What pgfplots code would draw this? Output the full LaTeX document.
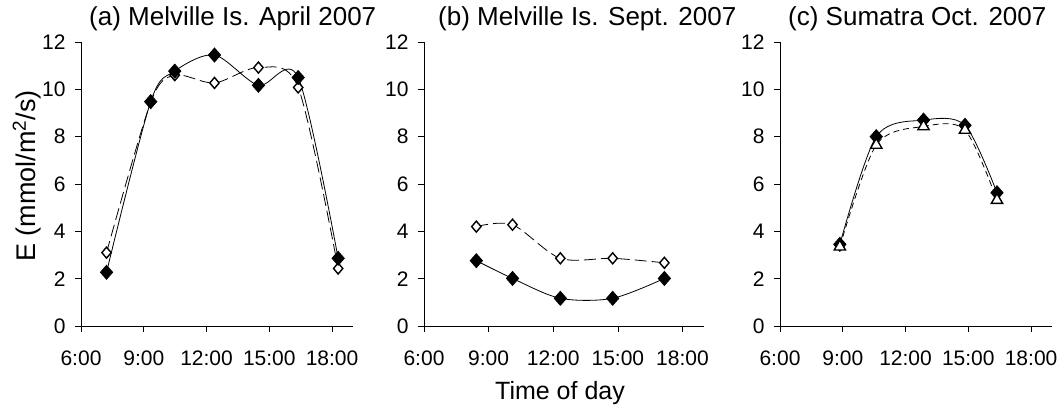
\documentclass[border=0pt]{standalone}
\usepackage{pgfplots}
\pgfplotsset{compat=1.18}
\usepackage{fontspec}
\setmainfont{Liberation Sans}
\pgfplotsset{
  panel/.style={
    scale only axis, width=272pt, height=284pt,
    anchor=south west,
    axis lines=left,
    axis line style={-, line width=0.7pt, black},
    xmin=6, xmax=19, ymin=0, ymax=12,
    xtick={6,9,12,15,18},
    xticklabels={6:00,9:00,12:00,15:00,18:00},
    ytick={0,2,4,6,8,10,12},
    tick align=outside,
    major tick length=6pt,
    tick style={black, line width=0.7pt},
    /pgf/number format/assume math mode=true,
    ticklabel style={font=\fontsize{21}{25}\selectfont},
    yticklabel style={xshift=-6pt},
    xticklabel style={yshift=-15pt},
    title style={at={(0,1)}, anchor=base west, yshift=11pt, inner sep=0pt,
                 font=\fontsize{26}{31}\selectfont},
    clip=false,
  },
  filled/.style={black, line width=0.8pt, smooth, tension=0.5,
    mark=diamond*, mark size=7pt, mark options={solid, fill=black, xscale=1.17}},
  opendia/.style={black, line width=0.8pt, smooth, tension=0.5,
    dash pattern=on 12pt off 5pt,
    mark=diamond*, mark size=5.5pt, mark options={solid, fill=white, line width=1.4pt, xscale=1.13}},
  opentri/.style={black, line width=0.8pt, smooth, tension=0.5,
    dash pattern=on 6pt off 4pt,
    mark=triangle*, mark size=6.5pt, mark options={solid, fill=white, line width=1.4pt}},
}
\begin{document}
\begin{tikzpicture}
\useasboundingbox (0,0) rectangle (1063pt,-405pt);
% (a)
\begin{axis}[panel, at={(81pt,-326pt)}, title style={xshift=8pt}, title={(a) Melville Is. April 2007}]
\addplot[opendia] coordinates {(7.22,3.1) (9.33,9.45) (10.48,10.6) (12.38,10.27) (14.48,10.92) (16.38,10.08) (18.29,2.43)};
\addplot[filled] coordinates {(7.22,2.27) (9.33,9.48) (10.48,10.77) (12.38,11.45) (14.48,10.17) (16.38,10.5) (18.29,2.86)};
\end{axis}
% (b)
\begin{axis}[panel, at={(424pt,-326pt)}, width=280pt, title style={xshift=14pt}, title={(b) Melville Is. Sept. 2007}]
\addplot[opendia] coordinates {(8.43,4.2) (10.11,4.28) (12.33,2.86) (14.76,2.86) (17.16,2.67)};
\addplot[filled] coordinates {(8.43,2.76) (10.11,2.01) (12.33,1.17) (14.76,1.17) (17.16,2.01)};
\end{axis}
% (c)
\begin{axis}[panel, at={(780pt,-326pt)}, title style={xshift=8pt}, title={(c) Sumatra Oct. 2007}]
\addplot[filled] coordinates {(8.86,3.45) (10.6,8.0) (12.86,8.7) (14.84,8.48) (16.37,5.63)};
\addplot[opentri] coordinates {(8.86,3.35) (10.6,7.65) (12.86,8.43) (14.84,8.28) (16.37,5.32)};
\end{axis}
\node[rotate=90, anchor=base, inner sep=0pt, font=\fontsize{27}{32}\selectfont] at (35pt,-176pt) {E (mmol/m\textsuperscript{2}/s)};
\node[anchor=base, inner sep=0pt, font=\fontsize{25}{30}\selectfont] at (560pt,-399pt) {Time of day};
\end{tikzpicture}
\end{document}
